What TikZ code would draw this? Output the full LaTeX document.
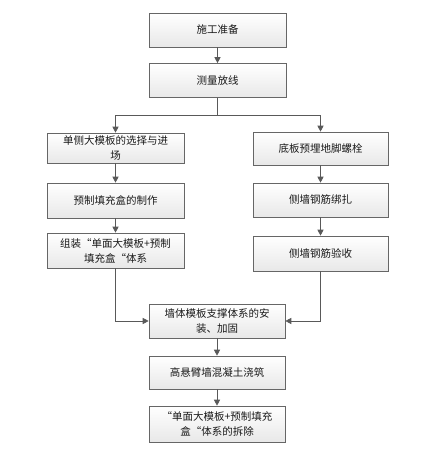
\documentclass[tikz,border=0pt]{standalone}
\usepackage{fontspec}
\newfontfamily\cjk{Noto Sans CJK SC}
\usetikzlibrary{arrows.meta,shadows}
\begin{document}
\begin{tikzpicture}[x=1pt,y=1pt,
  stepbox/.style={draw=gray!80!black, line width=0.6pt, top color=white, bottom color=gray!18,
    drop shadow={shadow xshift=1pt,shadow yshift=-1pt,opacity=0.3},
    minimum height=34pt, inner sep=1pt, align=center, font=\cjk\fontsize{10.5}{15}\selectfont, text=black!90},
  conn/.style={draw=black!65, line width=0.7pt},
  arr/.style={conn, -{Triangle[length=6pt,width=6pt]}}]
\useasboundingbox (0,0) rectangle (426,449);
\fill[white] (0,0) rectangle (426,449);
% top
\node[stepbox, minimum width=137pt] (a) at (217.5,419) {施工准备};
\node[stepbox, minimum width=137pt] (b) at (217.5,368.5) {测量放线};
% left column
\node[stepbox, minimum width=137pt, minimum height=30pt] (l1) at (115.5,301) {单侧大模板的选择与进\\场};
\node[stepbox, minimum width=137pt, minimum height=35pt] (l2) at (115.5,248.5) {预制填充盒的制作};
\node[stepbox, minimum width=137pt, minimum height=35pt] (l3) at (115.5,198.5) {组装“单面大模板+预制\\填充盒“体系};
% right column
\node[stepbox, minimum width=135pt, minimum height=33pt] (r1) at (320.5,300.5) {底板预埋地脚螺栓};
\node[stepbox, minimum width=135pt, minimum height=34pt] (r2) at (320.5,249) {侧墙钢筋绑扎};
\node[stepbox, minimum width=135pt, minimum height=35pt] (r3) at (320.5,195.5) {侧墙钢筋验收};
% bottom
\node[stepbox, minimum width=136pt] (c1) at (217,128) {墙体模板支撑体系的安\\装、加固};
\node[stepbox, minimum width=136pt, minimum height=33pt] (c2) at (217,76.5) {高悬臂墙混凝土浇筑};
\node[stepbox, minimum width=136pt, minimum height=36pt] (c3) at (217,25) {“单面大模板+预制填充\\盒“体系的拆除};
\coordinate (split) at (217.5,334);
\draw[arr] (a) -- (b);
\draw[conn] (b.south) -- (split);
\draw[arr] (split) -| (l1.north);
\draw[arr] (split) -| (r1.north);
\draw[arr] (l1) -- (l2);
\draw[arr] (l2) -- (l3);
\draw[arr] (r1) -- (r2);
\draw[arr] (r2) -- (r3);
\draw[arr] (l3.south) |- (c1.west);
\draw[arr] (r3.south) |- (c1.east);
\draw[arr] (c1) -- (c2);
\draw[arr] (c2) -- (c3);
\end{tikzpicture}
\end{document}
